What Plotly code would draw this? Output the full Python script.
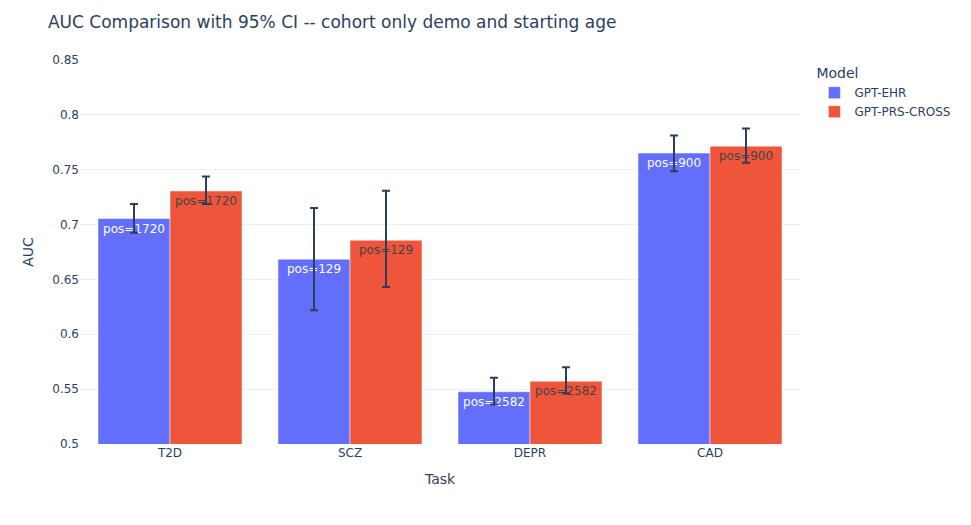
import plotly.graph_objects as go

tasks = ["T2D", "SCZ", "DEPR", "CAD"]
models = ["GPT-EHR", "GPT-PRS-CROSS"]
auc_ehr = [0.7055, 0.6685, 0.5476, 0.7652]
auc_prs = [0.7306, 0.6857, 0.5573, 0.7715]
ci_lo_ehr = [0.6925, 0.6218, 0.5361, 0.7485]
ci_hi_ehr = [0.7188, 0.7152, 0.5603, 0.7812]
ci_lo_prs = [0.7188, 0.6430, 0.5460, 0.7564]
ci_hi_prs = [0.7439, 0.7309, 0.5700, 0.7876]
pos_counts = [1720, 129, 2582, 900]

colors = ["#636efa", "#EF553B"]

fig = go.Figure()
for name, auc, lo, hi, col in [
    (models[0], auc_ehr, ci_lo_ehr, ci_hi_ehr, colors[0]),
    (models[1], auc_prs, ci_lo_prs, ci_hi_prs, colors[1]),
]:
    fig.add_trace(go.Bar(
        name=name, x=tasks, y=auc,
        marker_color=col,
        text=[f"pos={p}" for p in pos_counts],
        textposition="auto",
        error_y=dict(type="data", symmetric=False,
                     array=[h - a for h, a in zip(hi, auc)],
                     arrayminus=[a - l for a, l in zip(auc, lo)]),
    ))

fig.update_layout(
    template="plotly_white",
    barmode="group",
    width=963, height=517,
    font=dict(family="DejaVu Sans, Verdana, sans-serif"),
    title=dict(text="AUC Comparison with 95% CI -- cohort only demo and starting age",
               x=0.0415, xanchor="left", y=0.973, yanchor="middle",
               xref="container", yref="container"),
    xaxis_title="Task", yaxis_title="AUC",
    legend_title_text="Model",
    margin=dict(t=52, b=81, l=72, r=171, autoexpand=False),
    yaxis=dict(range=[0.5, 0.85]),
)
fig.write_html("out.html")
